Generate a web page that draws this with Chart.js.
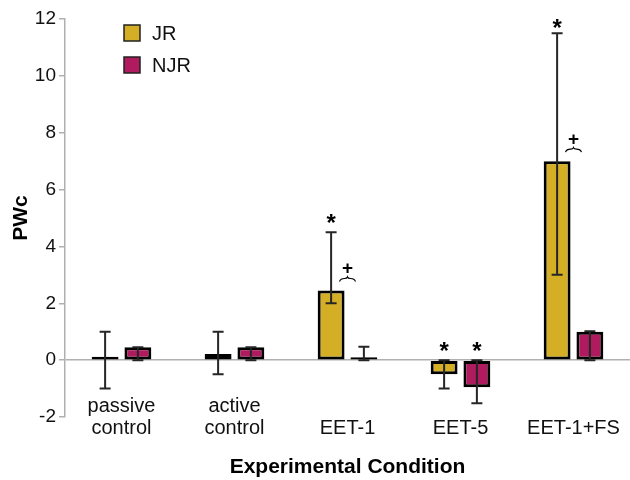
<!DOCTYPE html>
<html>
<head>
<meta charset="utf-8">
<script src="https://cdn.jsdelivr.net/npm/chart.js@4.4.1/dist/chart.umd.min.js"></script>
<style>
  html, body { margin: 0; padding: 0; background: #fff; }
  #wrap { width: 630px; height: 480px; }
</style>
</head>
<body>
<div id="wrap"><canvas id="chart"></canvas></div>
<script>
// categories and values
const conditions = [['passive', 'control'], ['active', 'control'], 'EET-1', 'EET-5', 'EET-1+FS'];
const jrValues = [0.12, 0.22, 2.45, -0.5, 7.0];
const jrErrLow = [-1.0, -0.5, 2.0, -1.0, 3.0];
const jrErrHigh = [1.0, 1.0, 4.5, 0.0, 11.5];
const njrValues = [0.45, 0.45, 0.1, -0.95, 1.0];
const njrErrLow = [0.0, 0.0, 0.0, -1.52, 0.0];
const njrErrHigh = [0.45, 0.45, 0.47, 0.0, 1.02];
const jrMarks = ['', '', '*', '*', '*'];
const njrMarks = ['', '', '', '*', ''];
const pairMarks = ['', '', '+', '', '+']; // "+" with brace between JR and NJR
const yTicks = [-2, 0, 2, 4, 6, 8, 10, 12];

const FONT = '"Liberation Sans", Arial, sans-serif';
const JR_COLOR = '#D4AF26';
const NJR_COLOR = '#B01A5E';

// error bars, significance marks, category labels, legend
const extrasPlugin = {
  id: 'extras',
  afterDatasetsDraw(chart) {
    const ctx = chart.ctx;
    const y = chart.scales.y;
    const errs = [[jrErrLow, jrErrHigh], [njrErrLow, njrErrHigh]];
    const marks = [jrMarks, njrMarks];
    ctx.save();
    errs.forEach((pair, di) => {
      const meta = chart.getDatasetMeta(di);
      meta.data.forEach((bar, i) => {
        const x = bar.x;
        const yLo = y.getPixelForValue(pair[0][i]);
        const yHi = y.getPixelForValue(pair[1][i]);
        ctx.strokeStyle = '#262626';
        ctx.lineWidth = 2;
        ctx.beginPath();
        ctx.moveTo(x, yLo);
        ctx.lineTo(x, yHi);
        ctx.moveTo(x - 5.5, yHi);
        ctx.lineTo(x + 5.5, yHi);
        ctx.moveTo(x - 5.5, yLo);
        ctx.lineTo(x + 5.5, yLo);
        ctx.stroke();
        if (marks[di][i]) {
          ctx.fillStyle = '#000';
          ctx.font = 'bold 24px ' + FONT;
          ctx.textAlign = 'center';
          ctx.textBaseline = 'alphabetic';
          const base = Math.min(yHi, bar.y);
          ctx.fillText(marks[di][i], x, base - (base < 60 ? -3 : 1));
        }
      });
    });
    // "+" over a small brace, centred between the two bars
    const m0 = chart.getDatasetMeta(0), m1 = chart.getDatasetMeta(1);
    pairMarks.forEach((mk, i) => {
      if (!mk) return;
      const cx = (m0.data[i].x + m1.data[i].x) / 2;
      const by = y.getPixelForValue(jrValues[i]) - 12;
      ctx.strokeStyle = '#000';
      ctx.lineWidth = 1.2;
      ctx.beginPath();
      ctx.moveTo(cx - 8, by + 3);
      ctx.quadraticCurveTo(cx - 7, by, cx - 3, by);
      ctx.quadraticCurveTo(cx - 0.5, by, cx, by - 1.5);
      ctx.quadraticCurveTo(cx + 0.5, by, cx + 3, by);
      ctx.quadraticCurveTo(cx + 7, by, cx + 8, by + 3);
      ctx.stroke();
      ctx.fillStyle = '#000';
      ctx.font = 'bold 19px ' + FONT;
      ctx.textAlign = 'center';
      ctx.textBaseline = 'alphabetic';
      ctx.fillText(mk, cx, by - 4);
    });
    // category labels, bottom-aligned, overlapping the lower plot band
    const xs = chart.scales.x;
    ctx.fillStyle = '#111';
    ctx.font = '20px ' + FONT;
    ctx.textAlign = 'center';
    ctx.textBaseline = 'middle';
    conditions.forEach((lab, i) => {
      const lines = Array.isArray(lab) ? lab : [lab];
      const cx = xs.getPixelForValue(i);
      lines.forEach((ln, k) => {
        ctx.fillText(ln, cx, 428 - (lines.length - 1 - k) * 22);
      });
    });
    // legend
    ctx.font = '20px ' + FONT;
    ctx.textAlign = 'left';
    ctx.textBaseline = 'middle';
    chart.data.datasets.forEach((ds, k) => {
      const ly = 25 + k * 32;
      ctx.fillStyle = ds.backgroundColor;
      ctx.fillRect(124, ly, 16, 16);
      ctx.strokeStyle = '#222';
      ctx.lineWidth = 1.5;
      ctx.strokeRect(124, ly, 16, 16);
      ctx.fillStyle = '#111';
      ctx.fillText(ds.label, 152, ly + 9);
    });
    ctx.restore();
  }
};

const ctx = document.getElementById('chart').getContext('2d');
const chart = new Chart(ctx, {
  type: 'bar',
  data: {
    labels: conditions,
    datasets: [
      {
        label: 'JR',
        data: jrValues,
        backgroundColor: JR_COLOR,
        borderColor: '#000',
        borderWidth: 3,
        borderSkipped: false,
        categoryPercentage: 0.58,
        barPercentage: 0.82
      },
      {
        label: 'NJR',
        data: njrValues,
        backgroundColor: NJR_COLOR,
        borderColor: '#000',
        borderWidth: 3,
        borderSkipped: false,
        categoryPercentage: 0.58,
        barPercentage: 0.82
      }
    ]
  },
  options: {
    responsive: true,
    maintainAspectRatio: false,
    animation: false,
    layout: { padding: { top: 19, right: 0, bottom: 0, left: 0 } },
    plugins: {
      legend: { display: false },
      tooltip: { enabled: false }
    },
    scales: {
      x: {
        grid: { display: false, drawTicks: false },
        border: { display: false },
        ticks: { display: false },
        title: {
          display: true,
          text: 'Experimental Condition',
          color: '#000',
          font: { family: FONT, size: 21, weight: 'bold' },
          padding: { top: 0, bottom: 0 }
        },
        afterFit: (s) => { s.height = 63; }
      },
      y: {
        min: -2,
        max: 12,
        afterBuildTicks: (s) => { s.ticks = yTicks.map(v => ({ value: v })); },
        grid: {
          color: (c) => (c.tick && c.tick.value === 0 ? '#b0b0b0' : 'rgba(0,0,0,0)'),
          lineWidth: 1.5,
          tickColor: '#b0b0b0',
          tickLength: 6
        },
        border: { color: '#b0b0b0', width: 1.5 },
        ticks: {
          color: '#111',
          font: { family: FONT, size: 19 },
          padding: 3
        },
        title: {
          display: true,
          text: 'PWc',
          color: '#000',
          font: { family: FONT, size: 21, weight: 'bold' },
          padding: { top: 9, bottom: 0 }
        },
        afterFit: (s) => { s.width = 65; }
      }
    }
  },
  plugins: [extrasPlugin]
});
</script>
</body>
</html>
